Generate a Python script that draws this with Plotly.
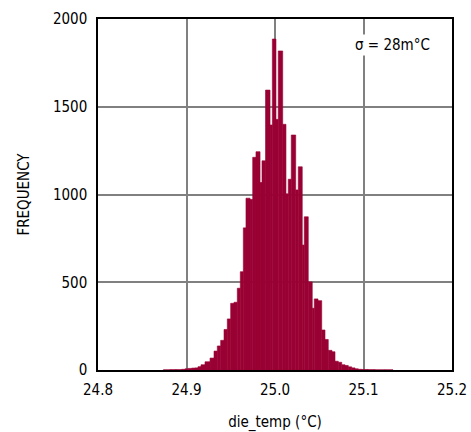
import numpy as np
import plotly.graph_objects as go

# Histogram bin edges (°C) and counts
bin_edges = [24.8738, 24.8814, 24.8881, 24.8946, 24.8983, 24.9020, 24.9059, 24.9096, 24.9130, 24.9164,
             24.9209, 24.9266, 24.9311, 24.9348, 24.9386, 24.9424, 24.9461, 24.9499, 24.9537, 24.9574,
             24.9608, 24.9642, 24.9672, 24.9718, 24.9748, 24.9785, 24.9831, 24.9853, 24.9893, 24.9944,
             24.9970, 25.0011, 25.0037, 25.0087, 25.0124, 25.0150, 25.0184, 25.0234, 25.0263, 25.0308,
             25.0331, 25.0376, 25.0421, 25.0444, 25.0486, 25.0528, 25.0565, 25.0602, 25.0644, 25.0678,
             25.0715, 25.0754, 25.0791, 25.0828, 25.0867, 25.0904, 25.0941, 25.0980, 25.1051, 25.1130,
             25.1243, 25.1333]
counts = [1, 2, 2, 4, 7, 9, 11, 12, 19, 30,
          47, 68, 108, 137, 169, 231, 291, 380, 386, 466,
          560, 810, 979, 972, 1212, 1244, 1068, 1192, 1595, 1396,
          1886, 1428, 1818, 1400, 1004, 1087, 1339, 1026, 1158, 712,
          873, 502, 352, 405, 395, 228, 174, 112, 104, 50,
          44, 30, 26, 18, 12, 7, 4, 3, 2, 1,
          1]

x_ticks = [24.8, 24.9, 25.0, 25.1, 25.2]
y_ticks = [0, 500, 1000, 1500, 2000]
sigma_label = "σ = 28m°C"

edges = np.array(bin_edges)
FONT = "DejaVu Sans Condensed, Liberation Sans Narrow, sans-serif"
BAR = "#990033"

fig = go.Figure(go.Bar(
    x=edges[:-1], y=counts, width=np.diff(edges), offset=0,
    marker=dict(color=BAR, line=dict(color=BAR, width=0.6)),
    showlegend=False,
))

fig.add_annotation(x=25.1333, y=1850, xref="x", yref="y", text=sigma_label,
                   showarrow=False, bgcolor="white",
                   font=dict(family=FONT, size=15, color="black"))

fig.update_layout(
    width=471, height=432,
    margin=dict(l=98, r=19, t=19, b=62),
    paper_bgcolor="white", plot_bgcolor="white",
    font=dict(family=FONT, size=15, color="black"),
)
fig.update_xaxes(
    range=[24.8, 25.2], tickvals=x_ticks, ticktext=[f"{v:.1f}" for v in x_ticks],
    showgrid=True, gridcolor="#808080", gridwidth=1.5,
    showline=True, linecolor="black", linewidth=1.5, mirror=True,
    ticks="", zeroline=False, ticklabelstandoff=5, automargin=False,
    ticklabeloverflow="allow",
    title=dict(text="die_temp (°C)", standoff=22, font=dict(size=15)),
)
fig.update_yaxes(
    range=[0, 2000], tickvals=y_ticks, ticktext=[str(v) for v in y_ticks],
    showgrid=True, gridcolor="#808080", gridwidth=1.5,
    showline=True, linecolor="black", linewidth=1.5, mirror=True,
    ticks="", zeroline=False, ticklabelstandoff=6, automargin=False,
    title=dict(text="FREQUENCY", standoff=20, font=dict(size=15)),
)

fig.write_html(
    "out.html",
    config={"displayModeBar": False, "responsive": False},
    post_script="document.body.style.margin='0';document.body.style.overflow='hidden';",
)
